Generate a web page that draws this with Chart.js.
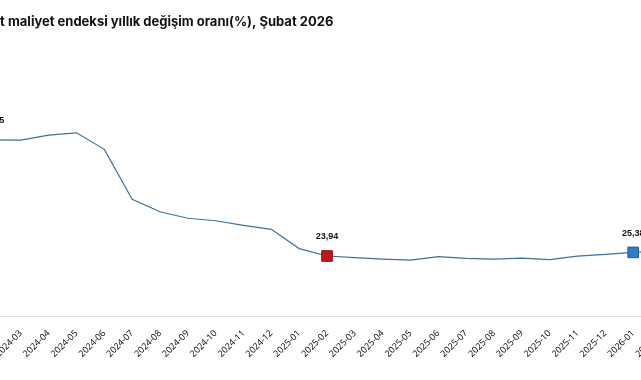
<!DOCTYPE html>
<html>
<head>
<meta charset="utf-8">
<script src="https://cdn.jsdelivr.net/npm/chart.js@4.4.1/dist/chart.umd.min.js"></script>
<style>
  html, body { margin: 0; padding: 0; background: #ffffff; }
  #frame { position: relative; width: 641px; height: 380px; overflow: hidden; background: #ffffff; }
  #inner { position: absolute; left: -44px; top: 0; width: 725px; height: 380px; }
</style>
</head>
<body>
<div id="frame"><div id="inner"><canvas id="c"></canvas></div></div>
<script>
const titleText = 'İnşaat maliyet endeksi yıllık değişim oranı(%), Şubat 2026';
const categories = ['2024-02','2024-03','2024-04','2024-05','2024-06','2024-07','2024-08','2024-09','2024-10','2024-11','2024-12','2025-01','2025-02','2025-03','2025-04','2025-05','2025-06','2025-07','2025-08','2025-09','2025-10','2025-11','2025-12','2026-01','2026-02'];
const values = [70.25, 70.2, 72.2, 73.1, 66.5, 46.6, 41.6, 39.0, 38.0, 36.2, 34.6, 26.9, 23.94, 23.3, 22.7, 22.3, 23.7, 23.0, 22.7, 23.1, 22.5, 23.9, 24.6, 25.38, 26.0];
const labelledIdx = [0, 12, 23];
const redIdx = 12;
const blueIdx = 23;

const valueLabels = {
  id: 'valueLabels',
  afterDatasetsDraw(chart) {
    const meta = chart.getDatasetMeta(0);
    const ctx = chart.ctx;
    ctx.save();
    ctx.font = 'bold 9px "Liberation Sans", Arial, sans-serif';
    ctx.fillStyle = '#111111';
    ctx.textAlign = 'center';
    ctx.textBaseline = 'middle';
    labelledIdx.forEach(i => {
      const p = meta.data[i];
      ctx.fillText(values[i].toFixed(2).replace('.', ','), p.x, p.y - 19);
    });
    ctx.restore();
  }
};

new Chart(document.getElementById('c'), {
  type: 'line',
  data: {
    labels: categories,
    datasets: [{
      data: values,
      borderColor: '#41709b',
      borderWidth: 1.2,
      tension: 0,
      fill: false,
      pointStyle: 'rect',
      pointRadius: ctx => (ctx.dataIndex === redIdx || ctx.dataIndex === blueIdx) ? 7.5 : 0,
      pointHoverRadius: 0,
      pointBackgroundColor: ctx => ctx.dataIndex === redIdx ? '#c0171d' : '#2f7dc1',
      pointBorderColor: ctx => ctx.dataIndex === redIdx ? '#8e1014' : '#21609c',
      pointBorderWidth: 1
    }]
  },
  options: {
    responsive: true,
    maintainAspectRatio: false,
    animation: false,
    events: [],
    layout: { padding: { left: 10, right: 20, top: 0, bottom: 0 } },
    plugins: {
      legend: { display: false },
      tooltip: { enabled: false },
      title: {
        display: true,
        text: titleText,
        align: 'start',
        color: '#111111',
        font: { family: 'Inter', size: 13, weight: '700', lineHeight: 1.2 },
        padding: { top: 14, bottom: 35.8 }
      }
    },
    scales: {
      x: {
        grid: { display: false },
        border: { display: true, color: '#dedede', width: 1 },
        ticks: {
          autoSkip: false,
          minRotation: 45,
          maxRotation: 45,
          padding: 4,
          color: '#000000',
          font: { family: 'Open Sans', size: 9, weight: '500' }
        },
        afterFit: s => { s.height = 64; }
      },
      y: {
        min: 0,
        max: 100,
        grid: { display: false },
        border: { display: false },
        ticks: { display: false },
        afterFit: s => { s.width = 27; }
      }
    }
  },
  plugins: [valueLabels]
});
</script>
</body>
</html>
